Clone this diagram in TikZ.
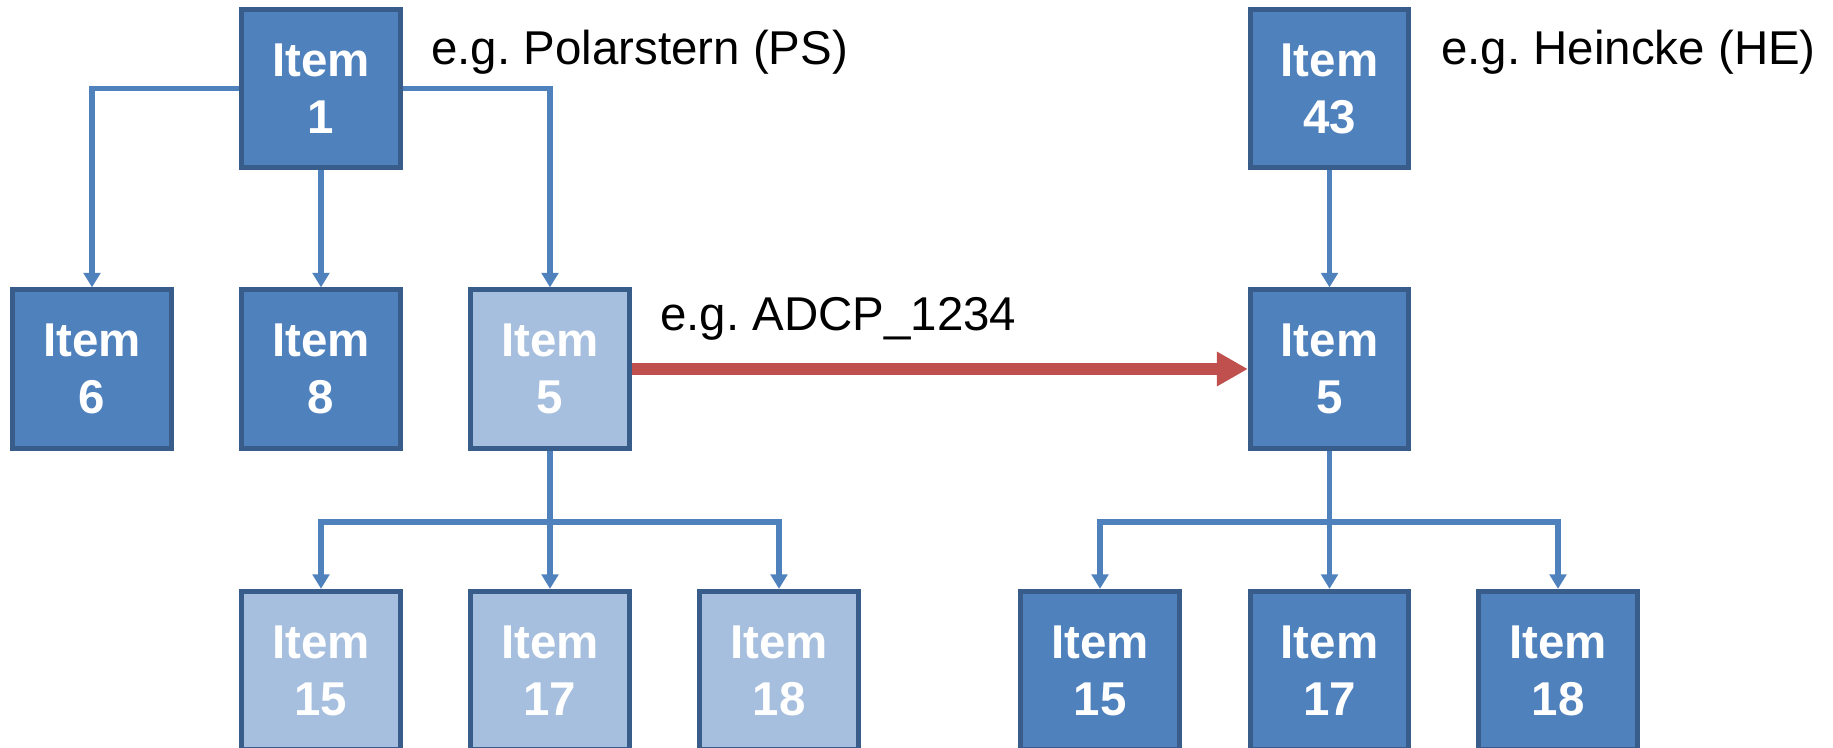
\documentclass[tikz,border=0pt]{standalone}
\usepackage{fontspec}
\setmainfont{Liberation Sans}
\usetikzlibrary{arrows.meta}
\frenchspacing

\definecolor{itemblue}{HTML}{4F81BD}
\definecolor{itemedge}{HTML}{385D8A}
\definecolor{itemlight}{HTML}{A7BFDE}
\definecolor{copyred}{HTML}{C0504D}

\begin{document}
\begin{tikzpicture}[
    item/.style={draw=itemedge, line width=2.7pt, fill=itemblue, text=white,
      font=\fontsize{27}{32.4}\selectfont\bfseries, align=center,
      minimum width=3.17cm, minimum height=3.17cm, inner sep=0pt},
    copied/.style={item, fill=itemlight},
    trunk/.style={draw=itemblue, line width=3pt},
    link/.style={trunk, -{Triangle[width=0.33cm,length=0.29cm]}},
    note/.style={font=\fontsize{27}{32.4}\selectfont, anchor=base west, inner sep=0pt},
    move/.style={draw=copyred, line width=7pt, -{Triangle[width=0.65cm,length=0.62cm]}}
  ]
  \useasboundingbox (0,0) rectangle (36.66,-14.96);

  % top row
  \node[item] (item1) at (6.42,-1.77) {Item\\1};
  \node[item] (item43) at (26.59,-1.77) {Item\\43};

  % middle row
  \node[item] (item6) at (1.84,-7.38) {Item\\6};
  \node[item] (item8) at (6.42,-7.38) {Item\\8};
  \node[copied] (item5a) at (11.0,-7.38) {Item\\5};
  \node[item] (item5b) at (26.59,-7.38) {Item\\5};

  % bottom row
  \node[copied] (item15a) at (6.42,-13.41) {Item\\15};
  \node[copied] (item17a) at (11.0,-13.41) {Item\\17};
  \node[copied] (item18a) at (15.58,-13.41) {Item\\18};
  \node[item] (item15b) at (22.0,-13.41) {Item\\15};
  \node[item] (item17b) at (26.59,-13.41) {Item\\17};
  \node[item] (item18b) at (31.16,-13.41) {Item\\18};

  % notes
  \node[note] (psnote) at (8.62,-1.30) {e.g. Polarstern (PS)};
  \node[note] (henote) at (28.82,-1.30) {e.g. Heincke (HE)};
  \node[note] (adcpnote) at (13.2,-6.62) {e.g. ADCP\_1234};

  % tree under item 1
  \draw[link] (item1.west) -| (item6.north);
  \draw[link] (item1.south) -- (item8.north);
  \draw[link] (item1.east) -| (item5a.north);

  % tree under item 5 (left)
  \coordinate (forkA) at (11.0,-10.44);
  \draw[trunk] (item5a.south) -- (forkA);
  \draw[link] (forkA) -| (item15a.north);
  \draw[link] (forkA) -- (item17a.north);
  \draw[link] (forkA) -| (item18a.north);

  % tree under item 43
  \draw[link] (item43.south) -- (item5b.north);
  \coordinate (forkB) at (26.59,-10.44);
  \draw[trunk] (item5b.south) -- (forkB);
  \draw[link] (forkB) -| (item15b.north);
  \draw[link] (forkB) -- (item17b.north);
  \draw[link] (forkB) -| (item18b.north);

  % copy arrow
  \draw[move] (item5a.east) -- (item5b.west);
\end{tikzpicture}
\end{document}
